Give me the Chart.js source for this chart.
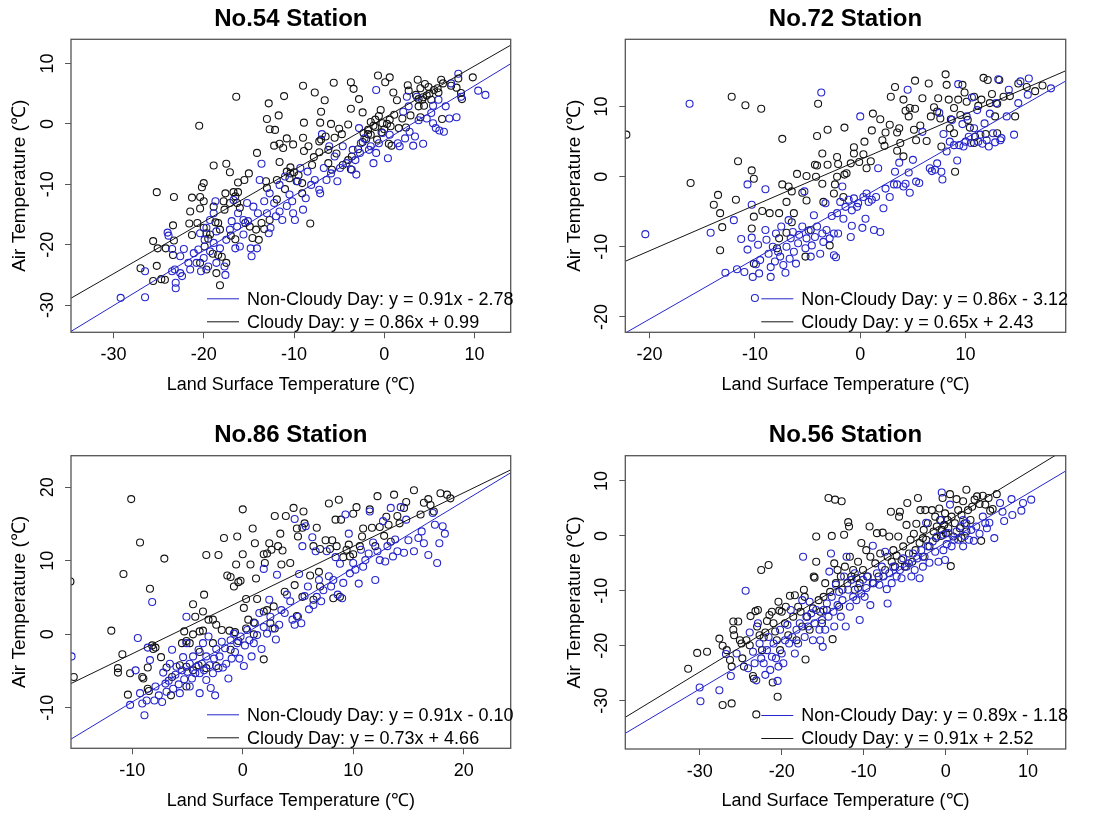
<!DOCTYPE html>
<html>
<head>
<meta charset="utf-8">
<script src="https://cdn.jsdelivr.net/npm/chart.js@4.4.0/dist/chart.umd.min.js"></script>
<style>
  html, body { margin: 0; padding: 0; background: #fff; overflow: hidden; width: 1099px; height: 816px; }
  canvas { position: absolute; }
</style>
</head>
<body>
<canvas id="c54" width="550" height="410" style="left:0;top:0"></canvas>
<canvas id="c72" width="549" height="410" style="left:550px;top:0"></canvas>
<canvas id="c86" width="550" height="410" style="left:0;top:416px"></canvas>
<canvas id="c56" width="549" height="410" style="left:550px;top:416px"></canvas>
<script>
// --- data: [land surface temp, air temp] ---
const st54Clear = [[-29.2,-28.8],[-26.5,-28.7],[-26.5,-24.4],[-24.0,-18.0],[-23.9,-18.5],[-23.5,-20.7],[-23.2,-24.1],[-23.1,-26.3],[-23.1,-27.2],[-22.6,-24.7],[-22.6,-21.9],[-22.2,-20.7],[-21.7,-23.0],[-21.5,-24.1],[-21.1,-21.4],[-20.8,-23.0],[-20.6,-20.8],[-20.4,-18.1],[-20.3,-24.4],[-20.0,-22.2],[-19.9,-19.2],[-19.7,-17.2],[-19.5,-23.6],[-19.3,-21.1],[-18.9,-19.7],[-18.7,-12.8],[-18.6,-17.8],[-18.6,-23.0],[-18.2,-20.6],[-17.7,-23.6],[-17.6,-25.0],[-17.5,-19.2],[-17.1,-17.5],[-16.9,-16.1],[-16.5,-20.6],[-16.3,-17.0],[-16.0,-20.3],[-15.6,-18.3],[-15.2,-13.1],[-15.1,-16.1],[-14.8,-20.6],[-14.7,-21.9],[-14.1,-20.6],[-14.0,-14.8],[-13.8,-9.3],[-13.6,-6.6],[-13.3,-12.8],[-13.0,-14.8],[-12.8,-18.1],[-12.6,-17.2],[-12.2,-13.1],[-12.0,-15.3],[-11.6,-14.5],[-11.3,-15.9],[-11.0,-8.7],[-10.8,-13.6],[-10.5,-11.7],[-10.2,-12.8],[-10.1,-14.8],[-9.9,-15.9],[-9.6,-9.5],[-9.3,-7.3],[-9.0,-14.2],[-8.7,-12.3],[-8.5,-7.9],[-8.1,-10.1],[-7.7,-9.3],[-7.1,-11.5],[-6.9,-1.7],[-6.7,-7.3],[-6.4,-9.3],[-6.1,-3.7],[-5.9,-8.2],[-5.5,-5.4],[-5.2,-9.5],[-4.9,-7.3],[-4.6,-3.7],[-4.2,-6.5],[-3.5,-4.3],[-3.2,-6.0],[-3.1,-8.4],[-2.8,-0.7],[-2.7,-4.8],[-2.6,-3.2],[-2.2,-2.4],[-1.5,-3.7],[-1.2,-6.5],[-0.9,-4.8],[-0.9,5.6],[-0.6,-3.2],[-0.2,-1.5],[0.4,-5.7],[0.6,-1.8],[1.5,-3.2],[1.7,-3.7],[2.1,2.0],[2.3,-2.4],[2.5,4.5],[2.8,-1.3],[3.2,-3.6],[3.4,-2.1],[3.8,0.6],[4.3,-3.3],[4.7,0.9],[5.2,1.8],[5.4,0.1],[5.7,-0.7],[6.1,-1.1],[6.6,-1.3],[6.8,2.9],[7.2,0.9],[7.4,6.7],[8.0,1.1],[8.2,8.3],[8.5,4.5],[10.4,5.5],[11.2,4.8],[3.6,4.5],[2.7,2.9],[5.4,3.0],[6.0,4.0],[-1.7,-4.3],[-3.6,-7.6],[-7.2,-10.9],[-11.6,-10.1],[-12.7,-11.5],[-16.7,-12.6],[-16.2,-14.8],[-15.6,-15.9],[-14.5,-13.7],[-18.9,-14.8],[-19.3,-15.9],[-22.4,-25.2],[-23.5,-24.4]];
const st54Cloudy = [[-16.4,4.5],[-20.5,-0.3],[-9.0,6.3],[-7.7,5.2],[-11.1,4.6],[-12.8,3.4],[-5.6,6.8],[-3.7,6.9],[-3.4,5.8],[-0.7,8.0],[0.6,7.7],[0.1,6.9],[-6.6,3.9],[-13.0,0.8],[-11.7,1.4],[-12.7,-0.9],[-12.1,-1.0],[-8.9,0.2],[-7.0,2.0],[-7.1,0.2],[-5.9,0.0],[-4.0,-0.1],[-2.8,4.1],[-3.7,2.5],[-2.4,1.9],[-14.1,-4.8],[-18.9,-6.9],[-17.5,-6.6],[-17.1,-8.0],[-20.0,-9.8],[-20.2,-10.5],[-25.2,-11.3],[-23.3,-12.1],[-21.3,-12.2],[-20.4,-12.1],[-20.0,-12.8],[-20.4,-14.0],[-18.9,-13.7],[-15.0,-8.2],[-15.5,-9.3],[-16.2,-9.7],[-13.1,-9.5],[-11.9,-9.3],[-10.8,-7.9],[-10.4,-7.2],[-10.0,-8.0],[-11.6,-6.3],[-12.2,-3.6],[-11.6,-3.3],[-11.2,-4.0],[-10.8,-2.4],[-10.1,-3.4],[-9.0,-2.3],[-8.9,-4.5],[-8.4,-3.7],[-7.8,-5.5],[-7.2,-4.7],[-7.2,-2.9],[-6.5,-2.1],[-6.2,-4.3],[-5.5,-2.3],[-5.0,-0.8],[-4.7,-1.7],[-5.3,-4.9],[-4.0,-6.0],[-3.6,-5.4],[-2.9,-4.2],[-3.7,-7.5],[-2.3,-1.5],[-1.8,-1.0],[-1.5,-1.8],[-1.2,-0.3],[-1.0,0.7],[-0.6,1.3],[-0.4,2.3],[-0.2,0.1],[0.3,0.0],[0.6,0.7],[1.1,1.5],[1.4,3.9],[1.0,5.2],[2.0,0.9],[2.4,-0.6],[0.5,-3.3],[0.8,-3.6],[2.6,6.4],[2.7,5.5],[3.7,7.3],[4.0,5.9],[4.5,6.6],[4.9,6.1],[3.8,4.1],[4.3,4.4],[4.7,4.7],[5.2,4.0],[5.5,5.6],[5.9,5.9],[6.3,7.3],[6.5,6.7],[7.4,6.3],[8.0,6.0],[8.2,7.5],[8.5,5.1],[8.6,4.1],[9.8,7.7],[6.4,0.8],[4.0,1.1],[2.9,1.4],[3.8,2.9],[4.4,3.0],[-27.0,-23.9],[-25.2,-23.5],[-25.6,-26.0],[-24.7,-25.7],[-24.3,-25.8],[-25.6,-19.4],[-25.1,-20.6],[-24.2,-20.6],[-23.3,-19.3],[-23.4,-21.7],[-23.4,-16.8],[-21.6,-16.5],[-21.3,-18.4],[-20.7,-16.4],[-20.0,-17.2],[-19.7,-18.1],[-19.9,-20.3],[-19.3,-18.3],[-18.7,-16.3],[-18.4,-16.4],[-18.2,-17.5],[-17.8,-12.8],[-17.7,-14.2],[-17.6,-11.5],[-17.1,-13.1],[-16.7,-11.3],[-16.3,-13.1],[-16.2,-11.3],[-16.0,-13.9],[-15.4,-16.4],[-14.9,-17.0],[-14.2,-17.5],[-13.6,-16.4],[-13.3,-17.4],[-12.7,-15.9],[-8.2,-16.5],[-18.2,-26.7],[-18.6,-24.7],[-19.7,-24.1],[-20.4,-23.0],[-18.4,-21.7],[-17.5,-23.0],[-16.5,-19.1],[-14.6,-18.9],[-13.9,-19.2],[-10.4,-8.2],[-9.7,-9.5],[-9.1,-9.8],[-9.1,-11.5],[-11.0,-10.8],[-11.9,-12.5],[-13.0,-10.6],[-8.0,-6.8],[-6.2,-6.5],[-5.8,-7.6],[-4.6,-6.8],[-7.0,-2.6],[-2.4,-3.0],[-1.8,-1.7],[-0.8,-2.6],[-0.3,-1.4],[0.7,-0.4],[1.6,-0.7],[-19.5,-19.0],[-19.0,-21.5],[-18.0,-22.0],[-17.0,-18.5],[-16.5,-12.0],[-9.5,-8.5],[-10.5,-9.0],[-1.0,-0.5],[0.0,-0.9],[-1.5,0.3],[3.5,4.8],[5.0,5.0],[6.0,5.2],[4.2,4.0],[-2.0,-2.5],[-21.5,-14.5]];
const st54Fit = [[0.91, -2.78], [0.86, 0.99]];
const st54XRange = [-34.7, 14.0], st54YRange = [-34.5, 14.0];
const st54XTicks = [-30, -20, -10, 0, 10], st54YTicks = [-30, -20, -10, 0, 10];

const st72Clear = [[-20.4,-8.2],[-16.2,10.4],[-14.2,-8.0],[-12.8,-13.7],[-12.0,-6.2],[-11.7,-13.2],[-11.3,-8.9],[-11.0,-13.6],[-10.7,-1.1],[-10.7,-10.4],[-10.3,-8.7],[-10.3,-4.0],[-10.2,-14.3],[-10.0,-17.3],[-9.9,-12.5],[-9.7,-9.7],[-9.6,-13.8],[-9.5,-11.9],[-9.0,-1.8],[-9.0,-7.6],[-8.9,-9.0],[-8.7,-11.0],[-8.5,-14.3],[-8.5,-12.9],[-8.3,-10.0],[-8.1,-12.1],[-8.0,-8.1],[-7.8,-10.7],[-7.6,-11.4],[-7.5,-7.1],[-7.3,-12.6],[-7.1,-13.7],[-7.0,-10.0],[-6.8,-6.2],[-6.7,-11.7],[-6.6,-8.8],[-6.4,-7.9],[-6.3,-10.7],[-6.1,-12.4],[-5.9,-9.5],[-5.8,-8.3],[-5.5,-7.1],[-5.3,-2.1],[-5.2,-10.2],[-5.1,-8.8],[-4.9,-7.7],[-4.7,-11.4],[-4.6,-9.8],[-4.4,-5.5],[-4.3,-8.6],[-4.1,-7.1],[-3.8,-11.0],[-3.7,12.0],[-3.6,-8.1],[-3.5,-9.3],[-3.3,-3.8],[-3.2,-7.6],[-2.9,-8.8],[-2.7,-5.6],[-2.5,-8.1],[-2.5,-11.2],[-2.3,-11.5],[-2.2,-5.2],[-2.1,-8.1],[-1.9,-3.6],[-1.7,-1.4],[-1.6,-6.0],[-1.4,-4.3],[-1.1,-3.3],[-0.9,-8.6],[-0.8,-4.8],[-0.8,-7.0],[-0.6,-3.1],[-0.3,-4.3],[-0.2,-3.8],[0.0,8.6],[0.2,-7.3],[0.3,-2.9],[0.5,-6.0],[0.6,-2.4],[0.8,-3.6],[1.1,-3.3],[1.3,-7.6],[1.5,-2.9],[1.7,1.2],[1.9,-7.9],[2.2,-4.5],[2.4,-1.7],[2.8,-2.9],[3.2,-1.1],[3.3,0.7],[3.5,-1.1],[3.7,2.0],[4.1,-1.4],[4.3,-1.0],[4.5,12.4],[4.6,0.6],[4.7,-2.3],[5.0,2.4],[5.3,-0.7],[5.6,-0.9],[5.9,6.4],[6.6,1.2],[6.8,0.8],[7.1,1.0],[7.3,1.9],[7.5,9.1],[7.7,0.7],[7.8,-0.4],[7.9,6.1],[8.2,3.6],[8.5,5.0],[8.7,8.1],[8.9,4.5],[9.2,2.3],[9.3,13.2],[9.4,4.5],[9.7,7.5],[9.8,4.3],[10.0,5.0],[10.1,8.6],[10.3,5.7],[10.5,4.8],[10.6,11.3],[10.8,6.9],[11.1,9.5],[11.2,5.0],[11.4,6.0],[11.6,4.7],[11.8,7.6],[12.0,5.2],[12.2,4.3],[12.3,9.0],[12.6,6.2],[12.8,4.9],[12.9,10.5],[13.1,13.9],[13.3,5.2],[13.4,5.5],[13.9,8.6],[14.1,12.4],[14.6,6.0],[15.0,10.5],[15.2,13.6],[15.9,11.7],[16.0,14.0],[18.1,12.6]];
const st72Cloudy = [[-22.2,6.0],[-12.2,11.4],[-10.9,10.2],[-9.4,9.7],[-4.0,10.4],[-4.1,5.8],[-7.4,5.4],[-11.6,2.2],[-16.1,-0.9],[-10.3,0.9],[-10.1,-0.3],[-11.8,-3.3],[-13.5,-2.6],[-13.9,-4.0],[-13.3,-5.2],[-13.1,-7.2],[-13.3,-10.5],[-10.3,-7.4],[-10.1,-5.7],[-9.3,-4.9],[-8.6,-5.2],[-7.7,-5.2],[-7.4,-1.1],[-7.0,-3.6],[-6.8,-1.4],[-6.5,-2.1],[-6.0,0.4],[-6.3,-5.2],[-5.5,-2.3],[-5.1,0.1],[-5.1,-3.4],[-4.3,1.7],[-4.1,1.6],[-3.6,3.3],[-4.2,0.0],[-3.6,-1.0],[-3.5,-3.6],[-3.1,1.7],[-3.1,6.7],[-2.4,-1.1],[-2.5,-2.4],[-2.2,2.8],[-2.1,1.8],[-1.5,7.0],[-1.5,0.3],[-0.9,1.9],[-0.6,4.2],[-0.6,3.3],[-0.1,2.1],[0.3,3.2],[0.4,5.0],[1.0,2.2],[1.2,9.0],[1.1,6.6],[1.9,8.2],[2.1,5.2],[2.3,4.4],[2.8,7.4],[2.9,11.4],[3.3,12.8],[3.5,6.3],[3.5,3.7],[3.7,6.9],[3.8,4.8],[4.1,11.0],[4.3,9.4],[4.6,8.6],[4.7,9.8],[5.2,13.7],[5.2,9.7],[5.1,6.7],[5.3,5.2],[5.7,7.3],[5.9,11.2],[6.3,5.1],[6.5,13.3],[6.7,8.6],[7.0,9.9],[7.3,9.3],[7.4,11.2],[7.6,8.3],[7.7,4.3],[8.1,14.6],[8.2,13.1],[8.4,11.0],[8.5,6.9],[8.6,8.2],[8.9,9.8],[9.0,0.7],[9.3,11.0],[9.5,8.8],[9.7,13.1],[9.9,12.0],[10.1,10.7],[10.2,8.1],[10.4,7.0],[10.8,11.4],[10.9,5.7],[11.2,10.1],[11.5,11.0],[11.7,14.1],[11.9,6.1],[12.1,13.8],[12.3,10.5],[12.5,11.8],[12.8,8.6],[13.0,10.4],[13.2,13.8],[13.6,11.4],[14.2,11.5],[14.7,8.6],[15.0,13.3],[15.8,12.8],[16.6,12.2],[17.3,13.0],[-5.2,-11.4],[-2.9,-9.8],[-4.7,-7.6],[-6.5,-6.5],[-7.0,-8.0],[-7.9,-10.2],[-10.1,-12.4],[-7.7,-8.8],[-1.6,-2.9],[-1.3,0.5],[0.6,1.2],[-2.2,0.0],[4.1,2.9],[2.4,6.3],[8.9,6.2],[10.8,4.8],[13.0,6.2]];
const st72Fit = [[0.86, -3.12], [0.65, 2.43]];
const st72XRange = [-22.3, 19.5], st72YRange = [-22.2, 19.6];
const st72XTicks = [-20, -10, 0, 10], st72YTicks = [-20, -10, 0, 10];

const st86Clear = [[-15.5,-3.0],[-10.2,-9.6],[-9.5,-0.5],[-9.7,-4.9],[-9.3,-8.0],[-9.1,-9.4],[-8.9,-11.0],[-8.7,-9.0],[-8.6,-1.8],[-8.4,-3.5],[-8.2,4.4],[-8.0,-9.0],[-7.9,-7.1],[-7.6,-8.3],[-7.3,-9.2],[-7.2,-5.2],[-7.0,-6.7],[-6.9,-7.8],[-6.7,-6.3],[-6.6,-4.0],[-6.4,-2.1],[-6.3,-7.4],[-6.1,-5.5],[-6.0,-4.4],[-5.8,-6.8],[-5.7,-8.0],[-5.5,-4.9],[-5.4,-3.1],[-5.3,-6.1],[-5.1,2.4],[-5.1,-1.2],[-5.0,-5.1],[-4.8,-7.1],[-4.8,-4.0],[-4.6,-6.0],[-4.5,-3.0],[-4.3,-5.3],[-4.2,-4.4],[-4.0,-2.1],[-3.9,-8.0],[-3.9,-5.3],[-3.7,-4.0],[-3.6,-1.2],[-3.5,-4.9],[-3.3,-3.0],[-3.3,-6.2],[-3.1,-0.3],[-3.0,-4.2],[-2.9,-7.3],[-2.7,-5.3],[-2.6,-3.3],[-2.5,-8.3],[-2.4,-2.0],[-2.2,-4.6],[-2.1,-3.0],[-1.9,-1.0],[-1.8,-4.5],[-1.6,-1.9],[-1.5,-4.0],[-1.3,-6.0],[-1.1,-0.8],[-1.0,-3.3],[-0.8,0.1],[-0.7,-2.4],[-0.5,-1.2],[-0.3,-3.3],[-0.2,-0.3],[0.1,-4.3],[0.2,-1.5],[0.4,0.6],[0.6,-0.8],[0.8,-3.0],[1.0,-1.2],[1.1,1.5],[1.3,-0.1],[1.5,2.9],[1.7,-2.0],[1.9,8.9],[1.9,1.0],[2.2,0.1],[2.4,4.7],[2.5,2.4],[2.7,0.8],[3.0,-0.7],[3.1,8.1],[3.3,1.3],[3.5,3.3],[3.8,2.9],[4.0,5.4],[4.3,4.5],[4.5,2.0],[4.7,15.7],[4.7,1.3],[5.0,2.4],[5.1,8.2],[5.3,1.5],[5.4,12.0],[5.6,5.2],[5.7,14.7],[5.9,6.5],[6.0,3.4],[6.3,13.2],[6.4,4.0],[6.6,11.3],[6.7,5.1],[6.9,7.4],[7.1,4.5],[7.3,6.0],[7.6,11.3],[7.8,7.9],[8.0,6.5],[8.2,7.4],[8.4,10.5],[8.6,5.4],[8.8,9.6],[9.0,4.9],[9.1,7.0],[9.3,16.3],[9.6,13.7],[9.7,8.3],[10.0,9.7],[10.2,8.8],[10.5,6.9],[10.7,11.5],[10.9,9.2],[11.1,10.1],[11.4,11.0],[11.5,16.7],[11.8,12.5],[12.0,7.4],[12.2,11.3],[12.4,10.1],[12.7,15.4],[12.9,9.9],[13.1,12.0],[13.4,17.2],[13.6,10.6],[13.8,12.9],[14.0,11.3],[14.3,17.3],[14.6,11.1],[14.8,15.6],[15.0,12.8],[15.5,11.3],[15.9,13.1],[16.2,14.0],[16.4,12.4],[16.8,10.8],[17.2,16.5],[17.4,14.9],[17.6,9.7],[17.8,12.4],[18.1,14.7],[18.3,13.7]];
const st86Cloudy = [[-15.6,7.2],[-15.3,-5.8],[-10.1,18.4],[-9.3,12.5],[-7.1,10.3],[-10.8,8.2],[-11.9,0.5],[-10.9,-2.7],[-11.3,-4.6],[-11.3,-5.2],[-10.2,-5.3],[-10.4,-8.2],[-8.4,6.2],[-8.6,-4.5],[-9.1,-5.8],[-9.0,-6.0],[-8.2,-1.5],[-8.1,-2.0],[-7.9,-1.8],[-7.4,-3.1],[-8.6,-7.4],[-8.5,-7.7],[-4.5,4.1],[-5.3,0.4],[-5.1,-0.9],[-4.8,-1.2],[-4.5,0.0],[-3.9,0.4],[-3.6,3.1],[-3.5,5.4],[-3.6,0.5],[-3.3,10.8],[-2.2,10.8],[-1.7,13.1],[-1.4,8.0],[-1.1,7.8],[-0.8,6.5],[-0.6,9.5],[-0.5,13.3],[-0.4,7.1],[0.0,17.0],[0.0,10.9],[-0.2,7.3],[0.3,4.8],[0.1,3.6],[0.7,9.5],[0.9,14.4],[1.1,12.4],[1.2,7.6],[1.3,4.8],[1.9,10.9],[2.0,9.7],[2.2,11.0],[2.4,12.4],[2.6,11.5],[2.9,16.1],[3.2,12.0],[3.4,13.7],[3.5,9.5],[3.6,11.4],[3.9,16.1],[4.3,9.7],[4.6,17.2],[4.7,6.7],[4.9,14.4],[5.0,13.3],[5.5,16.7],[5.4,14.5],[5.6,15.1],[6.1,8.0],[6.4,12.0],[6.7,14.5],[6.9,8.5],[7.0,11.6],[7.5,12.8],[7.8,17.8],[7.9,11.6],[8.1,12.8],[8.4,15.6],[8.5,12.0],[8.7,18.3],[8.9,15.6],[9.1,10.5],[9.4,11.5],[9.6,12.2],[9.7,10.6],[10.0,16.4],[10.0,10.9],[10.3,17.3],[10.6,12.0],[10.8,13.3],[10.9,14.4],[11.5,17.0],[11.7,14.5],[12.0,12.0],[12.2,18.8],[12.4,14.6],[12.8,13.4],[13.0,16.0],[13.2,14.9],[13.4,12.6],[13.7,19.0],[14.0,16.1],[14.2,15.1],[14.6,17.2],[14.8,18.0],[15.5,19.6],[16.1,16.3],[16.4,17.9],[16.8,18.4],[17.0,17.6],[17.3,16.7],[17.9,19.2],[18.5,19.0],[18.8,18.5],[1.9,-3.4],[2.9,0.8],[2.5,1.5],[1.9,3.1],[1.0,1.6],[0.5,2.0],[0.3,0.8],[-0.7,0.3],[-1.2,0.5],[-1.9,0.6],[-2.4,1.3],[-2.7,2.0],[-3.1,2.0],[-4.3,2.4],[-5.5,-1.2],[-5.7,-4.2],[-5.1,-4.4],[-6.4,-5.8],[-6.9,-4.5],[-6.5,-8.3],[-5.1,-7.1],[-4.5,-4.9],[-4.0,-4.2],[-3.3,-4.6],[-2.4,-4.3],[-3.9,-2.4],[-2.7,-1.2],[-1.1,-2.1],[-0.4,-0.9],[1.0,0.0],[4.9,2.5],[5.4,5.1],[6.4,4.7],[7.0,6.5],[8.2,4.9],[8.8,5.1],[3.8,5.8],[2.8,3.8],[2.2,3.3]];
const st86Fit = [[0.91, -0.10], [0.73, 4.66]];
const st86XRange = [-15.55, 24.26], st86YRange = [-15.5, 24.3];
const st86XTicks = [-10, 0, 10, 20], st86YTicks = [-10, 0, 10, 20];

const st56Clear = [[-30.0,-27.6],[-29.9,-30.1],[-27.6,-28.1],[-26.8,-21.5],[-26.2,-25.5],[-25.5,-21.4],[-24.4,-10.0],[-24.1,-24.1],[-23.9,-17.6],[-23.5,-21.1],[-23.3,-23.2],[-23.1,-26.3],[-22.9,-15.9],[-22.7,-19.6],[-22.5,-22.3],[-22.2,-23.2],[-22.0,-25.3],[-21.8,-20.8],[-21.6,-18.4],[-21.4,-24.4],[-21.2,-22.0],[-21.0,-19.6],[-20.7,-22.3],[-20.5,-26.4],[-20.4,-23.8],[-20.2,-17.1],[-20.0,-21.4],[-19.8,-23.2],[-19.6,-19.0],[-19.3,-16.2],[-19.1,-19.6],[-18.9,-13.5],[-18.7,-18.4],[-18.4,-21.4],[-18.2,-17.1],[-18.0,-19.6],[-17.8,-15.9],[-17.5,-11.7],[-17.4,-3.8],[-17.2,-18.4],[-17.0,-14.7],[-16.8,-16.5],[-16.6,-12.0],[-16.4,-14.1],[-16.2,-19.0],[-16.0,-15.9],[-15.8,-13.5],[-15.4,-17.1],[-15.3,-19.0],[-15.1,-15.3],[-15.0,-20.2],[-14.9,-13.5],[-14.7,-17.1],[-14.5,-12.3],[-14.3,-14.7],[-14.2,-6.5],[-14.0,-3.2],[-13.9,-11.1],[-13.7,-13.8],[-13.6,-16.5],[-13.4,-8.9],[-13.2,-12.6],[-13.0,-10.2],[-12.8,-14.7],[-12.6,-11.7],[-12.4,-7.4],[-12.2,-16.5],[-12.1,-3.8],[-11.9,-9.8],[-11.7,-12.9],[-11.5,-8.0],[-11.3,-11.1],[-11.1,-6.8],[-10.9,-11.7],[-10.7,-9.5],[-10.5,-15.3],[-10.3,-10.5],[-10.1,-8.0],[-9.9,-11.1],[-9.7,-9.5],[-9.5,-7.4],[-9.2,-12.6],[-8.9,-1.8],[-8.8,-8.6],[-8.4,-6.8],[-8.1,-8.9],[-7.8,-5.6],[-7.6,-7.4],[-7.4,-2.9],[-7.2,-9.7],[-7.1,-12.3],[-6.9,-6.8],[-6.6,-8.6],[-6.4,-5.6],[-6.0,-7.4],[-5.6,-6.2],[-5.4,-7.7],[-5.2,-4.1],[-4.8,-5.6],[-4.5,-5.0],[-4.2,-7.4],[-4.0,-3.2],[-3.8,-6.2],[-3.5,-4.1],[-3.2,-7.7],[-3.0,-2.6],[-2.8,-5.6],[-2.6,-3.8],[-2.4,2.4],[-2.2,-1.9],[-2.0,-4.9],[-1.6,-1.0],[-1.3,-2.9],[-1.1,-0.1],[-0.9,-4.7],[-0.6,2.9],[-0.5,7.9],[-0.3,-2.6],[-0.1,-4.4],[0.1,-1.5],[0.3,0.5],[0.5,5.7],[0.7,-1.9],[1.0,-0.7],[1.3,0.8],[1.5,-0.7],[1.8,1.7],[2.1,-1.9],[2.3,0.0],[2.5,2.3],[2.8,-0.7],[3.1,1.1],[3.4,-0.9],[3.7,1.7],[4.1,0.4],[4.5,3.5],[4.8,2.3],[5.0,1.4],[5.3,2.4],[5.9,-0.4],[6.6,6.0],[6.9,4.4],[7.1,2.7],[8.1,3.8],[8.0,6.7],[9.2,4.6],[9.4,6.0],[10.4,6.6],[2.1,2.9],[-0.3,0.2]];
const st56Cloudy = [[-31.4,-24.2],[-30.3,-21.3],[-29.1,-21.1],[-27.6,-18.7],[-27.2,-20.0],[-27.2,-30.8],[-26.1,-30.5],[-23.1,-32.5],[-26.7,-20.8],[-26.3,-22.6],[-26.1,-23.8],[-25.9,-15.6],[-25.9,-17.1],[-25.8,-18.1],[-25.3,-15.6],[-25.1,-19.0],[-24.9,-19.6],[-24.8,-22.3],[-24.6,-23.8],[-24.3,-19.0],[-23.9,-19.9],[-23.8,-14.6],[-23.5,-25.5],[-23.4,-26.0],[-23.2,-13.7],[-23.0,-16.5],[-22.9,-13.5],[-22.7,-18.1],[-22.5,-6.2],[-22.4,-20.8],[-22.2,-18.5],[-22.0,-17.6],[-21.8,-15.5],[-21.6,-5.3],[-21.5,-14.4],[-21.2,-13.8],[-21.0,-15.9],[-21.1,-26.7],[-20.8,-17.4],[-20.6,-19.0],[-20.4,-12.0],[-20.3,-13.6],[-20.5,-29.3],[-20.2,-20.8],[-20.0,-13.8],[-19.6,-15.9],[-19.5,-12.9],[-19.2,-18.1],[-19.0,-10.9],[-18.6,-14.7],[-18.4,-10.8],[-18.2,-19.0],[-18.0,-12.9],[-17.7,-13.8],[-17.5,-16.5],[-17.3,-9.8],[-17.2,-11.1],[-17.1,-22.5],[-16.9,-14.7],[-16.6,-17.1],[-16.2,-13.2],[-16.1,-7.4],[-16.0,-7.6],[-15.8,-4.7],[-15.8,-0.1],[-15.5,-11.7],[-15.3,-13.8],[-15.1,-15.9],[-14.9,-11.1],[-14.7,-8.6],[-14.5,-13.5],[-14.3,6.9],[-14.1,-10.2],[-13.9,0.0],[-13.8,-18.8],[-13.6,-5.0],[-13.5,6.6],[-13.4,-8.6],[-13.2,-6.2],[-13.0,-12.9],[-12.8,-7.4],[-12.7,6.3],[-12.6,-9.8],[-12.4,0.2],[-12.3,-5.6],[-12.0,-8.6],[-11.9,2.5],[-11.8,1.7],[-11.7,-3.8],[-11.5,-7.4],[-11.3,-6.2],[-11.1,-9.8],[-10.9,-7.7],[-10.7,-4.7],[-10.5,-8.6],[-10.3,-1.3],[-10.1,-6.2],[-9.7,-2.6],[-9.6,-7.4],[-9.3,1.7],[-9.2,-3.8],[-8.9,-8.6],[-8.6,-5.0],[-8.4,0.5],[-8.2,-7.4],[-8.0,-3.2],[-7.7,0.6],[-7.4,-6.2],[-7.1,-3.8],[-6.9,-0.1],[-6.7,4.4],[-6.6,-4.7],[-6.4,-2.6],[-6.2,-5.6],[-6.0,-3.6],[-5.8,-0.1],[-5.7,3.5],[-5.6,4.4],[-5.4,-4.4],[-5.2,-1.9],[-5.0,-5.6],[-4.8,2.0],[-4.7,6.0],[-4.5,-3.2],[-4.3,-0.7],[-4.1,-4.7],[-3.9,0.4],[-3.7,-2.6],[-3.6,2.2],[-3.4,6.9],[-3.2,-1.3],[-3.1,4.7],[-2.8,-3.8],[-2.7,1.1],[-2.5,4.7],[-2.4,-0.7],[-2.2,2.3],[-2.0,-1.9],[-1.7,4.7],[-1.5,0.8],[-1.3,3.5],[-1.2,-0.4],[-1.1,1.7],[-0.8,5.0],[-0.7,2.9],[-0.5,1.1],[-0.4,6.9],[-0.2,2.0],[-0.1,4.1],[0.0,0.5],[0.2,2.9],[0.3,1.4],[0.5,7.6],[0.6,-5.5],[0.7,3.5],[0.9,-0.1],[1.1,2.3],[1.3,6.7],[1.5,4.7],[1.7,1.4],[1.9,3.8],[2.1,6.3],[2.3,2.3],[2.5,8.4],[2.7,4.7],[3.0,2.9],[3.2,5.3],[3.5,6.6],[3.8,7.2],[4.1,5.8],[4.3,-0.9],[4.5,7.3],[4.8,5.7],[5.2,6.9],[5.4,4.6],[6.2,7.6],[5.7,4.9],[2.5,0.8],[1.9,-0.4],[-0.6,0.0],[-2.8,-0.4]];
const st56Fit = [[0.89, -1.18], [0.91, 2.52]];
const st56XRange = [-39.06, 14.6], st56YRange = [-38.8, 14.6];
const st56XTicks = [-30, -20, -10, 0, 10], st56YTicks = [-30, -20, -10, 0, 10];

const BLUE = '#2626cc';
const BLACK = '#141414';

Chart.defaults.font.family = '"Liberation Sans", Arial, sans-serif';
Chart.defaults.color = '#000';

const panels = [
  { id: 'c54', name: 'No.54 Station', clear: st54Clear, cloudy: st54Cloudy, fit: st54Fit, xr: st54XRange, yr: st54YRange, xt: st54XTicks, yt: st54YTicks, w: 550, box: [71, 39.3, 510.7, 332.3] },
  { id: 'c72', name: 'No.72 Station', clear: st72Clear, cloudy: st72Cloudy, fit: st72Fit, xr: st72XRange, yr: st72YRange, xt: st72XTicks, yt: st72YTicks, w: 549, box: [75.3, 39.3, 515.7, 332.3] },
  { id: 'c86', name: 'No.86 Station', clear: st86Clear, cloudy: st86Cloudy, fit: st86Fit, xr: st86XRange, yr: st86YRange, xt: st86XTicks, yt: st86YTicks, w: 550, box: [71, 39.7, 510.7, 332.3] },
  { id: 'c56', name: 'No.56 Station', clear: st56Clear, cloudy: st56Cloudy, fit: st56Fit, xr: st56XRange, yr: st56YRange, xt: st56XTicks, yt: st56YTicks, w: 549, box: [75.3, 39.7, 515.7, 333] }
];

const H = 410;
const fmtFit = ([a, b]) => `y = ${a.toFixed(2)}x ${b < 0 ? '-' : '+'} ${Math.abs(b).toFixed(2)}`;

function makeChart(p) {
  const [bl, bt, br, bb] = p.box;
  const toPts = arr => arr.map(([x, y]) => ({ x, y }));
  // regression line across the whole x range, clipped to the plot box
  const fitLine = ([a, b]) => [{ x: p.xr[0], y: a * p.xr[0] + b }, { x: p.xr[1], y: a * p.xr[1] + b }];

  const decor = {
    id: 'decor',
    afterDraw(chart) {
      const { ctx, chartArea: a, scales } = chart;
      ctx.save();
      // frame
      ctx.strokeStyle = '#555';
      ctx.lineWidth = 1.3;
      ctx.strokeRect(a.left, a.top, a.right - a.left, a.bottom - a.top);
      // title
      ctx.fillStyle = '#000';
      ctx.font = 'bold 24px "Liberation Sans", Arial, sans-serif';
      ctx.textAlign = 'center';
      ctx.textBaseline = 'middle';
      ctx.fillText(p.name, (a.left + a.right) / 2, 19);
      // y tick labels, parallel to the axis like R
      ctx.font = '18px "Liberation Sans", Arial, sans-serif';
      p.yt.forEach(v => {
        const y = scales.y.getPixelForValue(v);
        ctx.save();
        ctx.translate(a.left - 23, y);
        ctx.rotate(-Math.PI / 2);
        ctx.fillText(String(v), 0, 0);
        ctx.restore();
      });
      // legend
      const rows = [['Non-Cloudy Day: ' + fmtFit(p.fit[0]), BLUE, a.bottom - 33.5],
                    ['Cloudy Day: ' + fmtFit(p.fit[1]), BLACK, a.bottom - 10.5]];
      ctx.font = '18px "Liberation Sans", Arial, sans-serif';
      ctx.textAlign = 'left';
      ctx.lineWidth = 1;
      rows.forEach(([txt, col, y]) => {
        ctx.strokeStyle = col;
        ctx.beginPath();
        ctx.moveTo(a.left + 136, y);
        ctx.lineTo(a.left + 168, y);
        ctx.stroke();
        ctx.fillStyle = '#000';
        ctx.fillText(txt, a.left + 176, y + 1);
      });
      ctx.restore();
    }
  };

  const grid = { drawOnChartArea: false, drawTicks: true, tickLength: 6, color: '#555', lineWidth: 1 };

  new Chart(document.getElementById(p.id), {
    type: 'scatter',
    data: {
      datasets: [
        { label: 'Cloudy Day', data: toPts(p.cloudy), pointBorderColor: BLACK, pointBackgroundColor: 'rgba(0,0,0,0)', pointRadius: 3.5, pointBorderWidth: 1.1, clip: 0, order: 2 },
        { label: 'Non-Cloudy Day', data: toPts(p.clear), pointBorderColor: BLUE, pointBackgroundColor: 'rgba(0,0,0,0)', pointRadius: 3.5, pointBorderWidth: 1.1, clip: 0, order: 1 },
        { label: 'fit clear', data: fitLine(p.fit[0]), showLine: true, pointRadius: 0, borderColor: BLUE, borderWidth: 1, clip: 0, order: 0 },
        { label: 'fit cloudy', data: fitLine(p.fit[1]), showLine: true, pointRadius: 0, borderColor: BLACK, borderWidth: 1, clip: 0, order: 0 }
      ]
    },
    options: {
      responsive: false,
      animation: false,
      events: [],
      layout: { padding: { left: 0, top: bt, right: p.w - br, bottom: 0 } },
      plugins: { legend: { display: false }, tooltip: { enabled: false }, title: { display: false } },
      scales: {
        x: {
          type: 'linear', min: p.xr[0], max: p.xr[1],
          afterBuildTicks: s => { s.ticks = p.xt.map(v => ({ value: v })); },
          afterFit: s => { s.height = H - bb; },
          ticks: { callback: v => String(v), font: { size: 18 }, color: '#000', padding: 5.9, maxRotation: 0, autoSkip: false },
          grid: grid,
          border: { display: false },
          title: { display: true, text: 'Land Surface Temperature (℃)', font: { size: 18 }, color: '#000', padding: { top: 0, bottom: 14.2 } }
        },
        y: {
          type: 'linear', min: p.yr[0], max: p.yr[1],
          afterBuildTicks: s => { s.ticks = p.yt.map(v => ({ value: v })); },
          afterFit: s => { s.width = bl; },
          ticks: { display: false },
          grid: grid,
          border: { display: false },
          title: { display: true, text: 'Air Temperature (℃)', font: { size: 19 }, color: '#000', padding: { top: bl - 51 - 11.4, bottom: 0 } }
        }
      }
    },
    plugins: [decor]
  });
}

panels.forEach(makeChart);
</script>
</body>
</html>
